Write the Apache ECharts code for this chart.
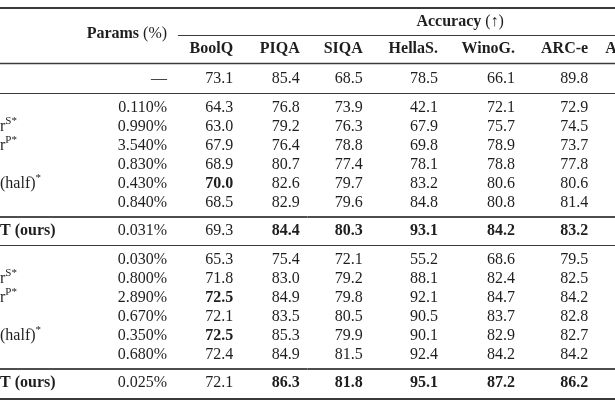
<!DOCTYPE html>
<html><head><meta charset="utf-8">
<script src="https://cdn.jsdelivr.net/npm/echarts@6/dist/echarts.min.js"></script>
<style>html,body{margin:0;padding:0;background:#fff}#c{width:615px;height:410px}</style>
</head><body><div id="c"></div>
<script>
// ---------------- data ----------------
const columns = ['Params (%)', 'BoolQ', 'PIQA', 'SIQA', 'HellaS.', 'WinoG.', 'ARC-e', 'ARC-c'];
const spanHeader = 'Accuracy (↑)';
const rowLabels = ['', '', 'r^S*', 'r^P*', '', '(half)^*', '', 'T (ours)',
                   '', 'r^S*', 'r^P*', '', '(half)^*', '', 'T (ours)'];
const rowBlock = [0, 1, 1, 1, 1, 1, 1, 2, 3, 3, 3, 3, 3, 3, 4];
const params = ['—', '0.110%', '0.990%', '3.540%', '0.830%', '0.430%', '0.840%', '0.031%',
                '0.030%', '0.800%', '2.890%', '0.670%', '0.350%', '0.680%', '0.025%'];
const boolq  = [73.1, 64.3, 63.0, 67.9, 68.9, 70.0, 68.5, 69.3, 65.3, 71.8, 72.5, 72.1, 72.5, 72.4, 72.1];
const piqa   = [85.4, 76.8, 79.2, 76.4, 80.7, 82.6, 82.9, 84.4, 75.4, 83.0, 84.9, 83.5, 85.3, 84.9, 86.3];
const siqa   = [68.5, 73.9, 76.3, 78.8, 77.4, 79.7, 79.6, 80.3, 72.1, 79.2, 79.8, 80.5, 79.9, 81.5, 81.8];
const hellas = [78.5, 42.1, 67.9, 69.8, 78.1, 83.2, 84.8, 93.1, 55.2, 88.1, 92.1, 90.5, 90.1, 92.4, 95.1];
const winog  = [66.1, 72.1, 75.7, 78.9, 78.8, 80.6, 80.8, 84.2, 68.6, 82.4, 84.7, 83.7, 82.9, 84.2, 87.2];
const arce   = [89.8, 72.9, 74.5, 73.7, 77.8, 80.6, 81.4, 83.2, 79.5, 82.5, 84.2, 82.8, 82.7, 84.2, 86.2];
const boldCells = [[5, 'BoolQ'], [10, 'BoolQ'], [12, 'BoolQ'],
  [7, 'PIQA'], [7, 'SIQA'], [7, 'HellaS.'], [7, 'WinoG.'], [7, 'ARC-e'],
  [14, 'PIQA'], [14, 'SIQA'], [14, 'HellaS.'], [14, 'WinoG.'], [14, 'ARC-e']];
const valueCols = [boolq, piqa, siqa, hellas, winog, arce];

// ---------------- layout ----------------
const X_MIN = -2.305, X_MAX = 6.469;     // column units
const Y_MIN = -4.158, Y_MAX = 17.421;    // row units
const HEADER_ROW = -1.58, SPAN_ROW = -3.0, PARAMS_ROW = -2.4, CMID_ROW = -2.32, CMID_START = 0.234;
const SPAN_CENTER = 4.26;
const COL_SHIFT = [5.5, 1.5, -2, -9, -4, 3, 6, 0];   // px nudge of each column's right edge (uneven LaTeX widths)
const FONT = '"Liberation Serif", "Times New Roman", serif';
const INK = '#1e1e1e', RULE = '#3a3a3a';

const rowPos = rowBlock.map((b, i) => i + 0.5 * b);
const isBold = (r, name) => boldCells.some(d => d[0] === r && d[1] === name);

// build text cells: [x, y, text, kind, shift]
const cells = [];
columns.forEach((name, c) => {
  if (name !== 'Params (%)') cells.push([c, HEADER_ROW, name, 'head', COL_SHIFT[c]]);
});
cells.push([0, PARAMS_ROW, '{hb|Params} (%)', 'rich', COL_SHIFT[0]]);
cells.push([SPAN_CENTER, SPAN_ROW, '{hb|Accuracy} (↑)', 'span', 0]);
rowPos.forEach((y, r) => {
  cells.push([0, y, params[r], 'val', COL_SHIFT[0]]);
  valueCols.forEach((arr, k) => {
    cells.push([k + 1, y, arr[r].toFixed(1), isBold(r, columns[k + 1]) ? 'bold' : 'val', COL_SHIFT[k + 1]]);
  });
  if (rowLabels[r]) {
    const lbl = rowLabels[r];
    let txt;
    if (lbl.indexOf('(ours)') >= 0) txt = '{lb|' + lbl + '}';
    else {
      const parts = lbl.split('^');
      txt = '{ln|' + parts[0] + '}' + (parts[1] ? '{sup|' + parts[1] + '}' : '');
    }
    cells.push([X_MIN, y, txt, 'label', 0]);
  }
});

// rules
const lines = [];
const single = (v, w) => lines.push({yAxis: v, lineStyle: {width: w, color: RULE, type: 'solid'}});
const dbl = v => { single(v - 0.05, 0.9); single(v + 0.05, 0.9); };
single(SPAN_ROW - 0.74, 2);                       // top rule
single((HEADER_ROW + rowPos[0]) / 2 - 0.05, 1.3);  // under header
for (let i = 1; i < rowBlock.length; i++) {
  if (rowBlock[i] !== rowBlock[i - 1]) {
    const v = (rowPos[i] + rowPos[i - 1]) / 2;
    if (rowBlock[i] % 2 === 0) dbl(v); else single(v, 1.2);
  }
}
single(rowPos[rowPos.length - 1] + 0.84, 2);      // bottom rule
lines.push([{coord: [CMID_START, CMID_ROW], lineStyle: {width: 1, color: RULE, type: 'solid'}},
            {coord: [X_MAX, CMID_ROW]}]);

const chart = echarts.init(document.getElementById('c'), null, {renderer: 'canvas'});
chart.setOption({
  animation: false,
  backgroundColor: '#fff',
  grid: {left: 0, right: 0, top: 0, bottom: 0},
  xAxis: {type: 'value', min: X_MIN, max: X_MAX, show: false},
  yAxis: {type: 'value', min: Y_MIN, max: Y_MAX, inverse: true, show: false},
  series: [{
    type: 'custom',
    coordinateSystem: 'cartesian2d',
    data: cells,
    encode: {x: 0, y: 1},
    silent: true,
    renderItem: (params, api) => {
      const d = cells[params.dataIndex];
      const p = api.coord([d[0], d[1]]);
      const kind = d[3];
      const style = {
        text: d[2], fill: INK,
        font: (kind === 'bold' || kind === 'head' ? 'bold ' : '') + '16px ' + FONT,
        align: kind === 'label' ? 'left' : (kind === 'span' ? 'center' : 'right'),
        verticalAlign: 'middle',
        rich: {
          hb: {fontWeight: 'bold', fontSize: 16, fontFamily: FONT, fill: INK},
          lb: {fontWeight: 'bold', fontSize: 16, fontFamily: FONT, fill: INK, lineHeight: 22},
          ln: {fontSize: 16, fontFamily: FONT, fill: INK, lineHeight: 22},
          sup: {fontSize: 11, fontFamily: FONT, fill: INK, lineHeight: 11, verticalAlign: 'top'}
        }
      };
      return {type: 'text', x: p[0] + d[4], y: p[1], style: style};
    },
    markLine: {silent: true, symbol: ['none', 'none'], label: {show: false}, animation: false, data: lines}
  }]
});
</script></body></html>
